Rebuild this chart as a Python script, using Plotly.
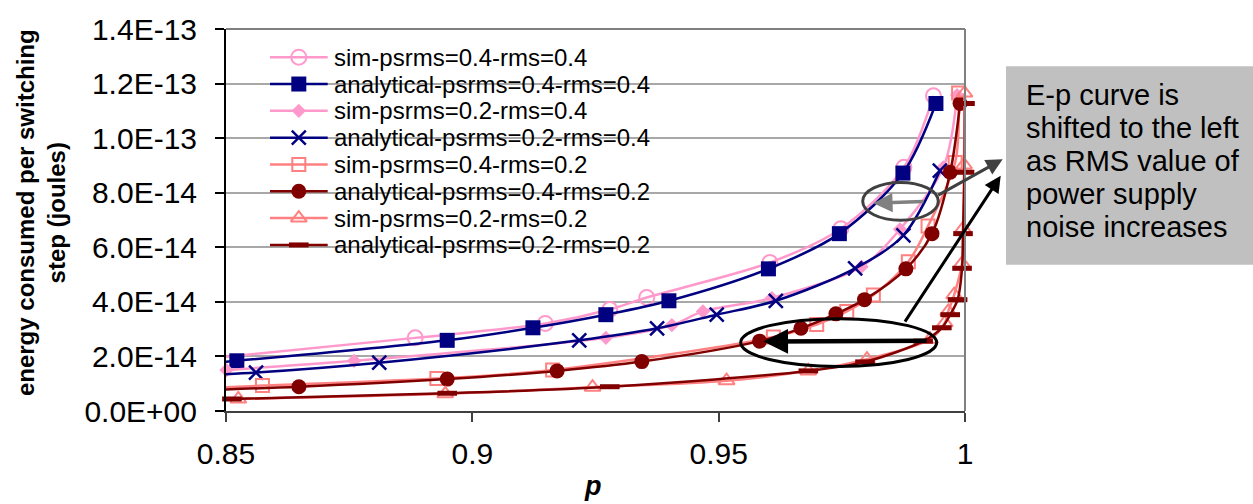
import plotly.graph_objects as go

# Energy consumed per switching step versus probability p.
# Energies are given in units of 1e-14 joules.
E_UNIT = 1e-14

sim_04_04_p = [0.845, 0.8884, 0.9148, 0.9279, 0.9354, 0.9604, 0.9748, 0.9876, 0.9936]
sim_04_04_e = [1.90, 2.68, 3.21, 3.72, 4.16, 5.44, 6.68, 8.93, 11.55]

ana_04_04_p = [0.826, 0.8522, 0.8949, 0.9123, 0.9271, 0.9399, 0.9601, 0.9745, 0.9874, 0.9941]
ana_04_04_e = [1.47, 1.84, 2.59, 3.05, 3.53, 4.04, 5.21, 6.50, 8.72, 11.27]

sim_02_04_p = [0.83, 0.8501, 0.876, 0.9271, 0.9405, 0.9468, 0.9608, 0.979, 0.9868, 0.9956, 0.9984]
sim_02_04_e = [1.20, 1.50, 1.84, 2.68, 3.15, 3.65, 4.14, 5.29, 6.66, 8.93, 11.58]

ana_02_04_p = [0.83, 0.8561, 0.8811, 0.9217, 0.9375, 0.9496, 0.9616, 0.9777, 0.9875, 0.9949]
ana_02_04_e = [1.17, 1.41, 1.77, 2.59, 3.03, 3.53, 4.04, 5.23, 6.44, 8.81]

sim_04_02_p = [0.83, 0.8574, 0.8928, 0.9163, 0.9611, 0.9699, 0.976, 0.9814, 0.9885, 0.9925, 0.998, 0.9987]
sim_04_02_e = [0.72, 0.93, 1.19, 1.50, 2.71, 3.17, 3.65, 4.25, 5.47, 6.78, 9.11, 11.65]

ana_04_02_p = [0.825, 0.8648, 0.8949, 0.9172, 0.9344, 0.9583, 0.9667, 0.9738, 0.9796, 0.988, 0.9933, 0.997, 0.999]
ana_04_02_e = [0.65, 0.89, 1.17, 1.47, 1.81, 2.56, 3.03, 3.56, 4.08, 5.21, 6.50, 8.75, 11.27]

sim_02_02_p = [0.8525, 0.8945, 0.9244, 0.9516, 0.9682, 0.9801, 0.9929, 0.9959, 0.9966, 0.9978, 0.9994, 0.9996, 0.9998, 0.9999]
sim_02_02_e = [0.44, 0.63, 0.87, 1.11, 1.47, 1.90, 2.63, 3.23, 3.65, 4.26, 5.41, 6.68, 9.02, 11.65]

ana_02_02_p = [0.8512, 0.8949, 0.9279, 0.9682, 0.9797, 0.9915, 0.9953, 0.997, 0.9985, 0.9994, 0.9996, 0.9999, 1.0]
ana_02_02_e = [0.44, 0.65, 0.89, 1.47, 1.80, 2.56, 3.05, 3.53, 4.08, 5.23, 6.50, 8.75, 11.27]

series_names = [
    "sim-psrms=0.4-rms=0.4",
    "analytical-psrms=0.4-rms=0.4",
    "sim-psrms=0.2-rms=0.4",
    "analytical-psrms=0.2-rms=0.4",
    "sim-psrms=0.4-rms=0.2",
    "analytical-psrms=0.4-rms=0.2",
    "sim-psrms=0.2-rms=0.2",
    "analytical-psrms=0.2-rms=0.2",
]

x_tick_vals = [0.85, 0.9, 0.95, 1.0]
x_tick_text = ["0.85", "0.9", "0.95", "1"]
y_tick_vals = [0, 2, 4, 6, 8, 10, 12, 14]
y_tick_text = ["0.0E+00", "2.0E-14", "4.0E-14", "6.0E-14", "8.0E-14",
               "1.0E-13", "1.2E-13", "1.4E-13"]

note_lines = ["E-p curve is", "shifted to the left", "as RMS value of",
              "power supply", "noise increases"]

FONT = "Liberation Sans, Arial, sans-serif"
PINK = "#FF99CC"
NAVY = "#000080"
SALMON = "#FF8080"
MAROON = "#800000"

# figure geometry (pixels)
W, H = 1253, 504
L, R, T, B = 226, 965, 25, 411


def px(x):
    return (x - L) / (R - L)


def py(y):
    return (B - y) / (B - T)


styles = [
    dict(color=PINK, symbol="circle-open", size=15, lw=2),
    dict(color=NAVY, symbol="square", size=15, lw=0),
    dict(color=PINK, symbol="diamond", size=11, lw=0),
    dict(color=NAVY, symbol="x-thin-open", size=14, lw=2.5),
    dict(color=SALMON, symbol="square-open", size=13, lw=2),
    dict(color=MAROON, symbol="circle", size=15, lw=0),
    dict(color=SALMON, symbol="triangle-up-open", size=14, lw=2),
    dict(color=MAROON, symbol="line-ew-open", size=14, lw=5),
]

data = [
    (sim_04_04_p, sim_04_04_e),
    (ana_04_04_p, ana_04_04_e),
    (sim_02_04_p, sim_02_04_e),
    (ana_02_04_p, ana_02_04_e),
    (sim_04_02_p, sim_04_02_e),
    (ana_04_02_p, ana_04_02_e),
    (sim_02_02_p, sim_02_02_e),
    (ana_02_02_p, ana_02_02_e),
]


def marker_of(st):
    return dict(symbol=st["symbol"], size=st["size"], color=st["color"],
                line=dict(color=st["color"], width=st["lw"]))


fig = go.Figure()

for name, (p, e), st in zip(series_names, data, styles):
    fig.add_trace(go.Scatter(
        x=p, y=[v * E_UNIT for v in e], name=name,
        mode="lines+markers",
        line=dict(color=st["color"], width=2.5, shape="spline", smoothing=0.9),
        marker=marker_of(st), cliponaxis=False, showlegend=False,
    ))

# hand-laid legend on a pixel-scaled overlay axis
annotations = []
row0, row_step = 53.5, 27.1
for i, (name, st) in enumerate(zip(series_names, styles)):
    ry = row0 + row_step * i
    fig.add_trace(go.Scatter(
        x=[270, 327.7], y=[ry, ry], mode="lines", xaxis="x2", yaxis="y2",
        line=dict(color=st["color"], width=2.5), showlegend=False, hoverinfo="skip",
    ))
    fig.add_trace(go.Scatter(
        x=[298.8], y=[ry], mode="markers", xaxis="x2", yaxis="y2",
        marker=marker_of(st), showlegend=False, hoverinfo="skip",
    ))
    annotations.append(dict(
        text=name, x=px(332), y=py(ry), xref="paper", yref="paper",
        xanchor="left", yanchor="middle", showarrow=False,
        font=dict(family=FONT, size=24, color="black"),
    ))

# annotation text box
for j, line in enumerate(note_lines):
    annotations.append(dict(
        text=line, x=px(1024), y=py(91.5 + 33.3 * j), xref="paper", yref="paper",
        xanchor="left", yanchor="middle", showarrow=False,
        font=dict(family=FONT, size=29, color="black"),
    ))

# axis titles
annotations.append(dict(
    text="energy consumed per switching<br>step (joules)",
    x=px(41), y=py(210), xref="paper", yref="paper", textangle=-90,
    xanchor="center", yanchor="middle", showarrow=False,
    font=dict(family=FONT, size=24, color="black", weight="bold"),
))
annotations.append(dict(
    text="p", x=px(593), y=py(487), xref="paper", yref="paper",
    xanchor="center", yanchor="middle", showarrow=False,
    font=dict(family=FONT, size=27, color="black", weight="bold", style="italic"),
))


def arrow(head, tail, color, width):
    return dict(
        text="", x=px(head[0]), y=py(head[1]), xref="paper", yref="paper",
        ax=tail[0] - head[0], ay=tail[1] - head[1], axref="pixel", ayref="pixel",
        showarrow=True, arrowhead=2, arrowsize=1.1, arrowwidth=width,
        arrowcolor=color, standoff=0, startstandoff=0,
    )


annotations += [
    arrow((873.3, 201), (925, 199.3), "#808080", 3.5),
    arrow((1002.7, 156.7), (936.7, 193.3), "#404040", 3),
    arrow((1000.7, 173.3), (904, 320.7), "black", 3),
    arrow((763.3, 340.7), (928.3, 340), "black", 4.5),
]

shapes = [
    # legend backdrop
    dict(type="rect", xref="paper", yref="paper", layer="between",
         x0=px(245), x1=px(705), y0=py(258), y1=py(27),
         fillcolor="white", line=dict(width=0)),
    # top and right frame
    dict(type="line", xref="paper", yref="paper", x0=0, x1=1, y0=1, y1=1,
         line=dict(color="#808080", width=2)),
    dict(type="line", xref="paper", yref="paper", x0=1, x1=1, y0=0, y1=1,
         line=dict(color="#808080", width=2)),
    # callout ellipses
    dict(type="circle", xref="paper", yref="paper",
         x0=px(862.7), x1=px(938.3), y0=py(218.3), y1=py(180),
         line=dict(color="#404040", width=3)),
    dict(type="circle", xref="paper", yref="paper",
         x0=px(740.7), x1=px(936.7), y0=py(366), y1=py(317.7),
         line=dict(color="black", width=3)),
    # note box
    dict(type="rect", xref="paper", yref="paper", layer="below",
         x0=px(1006), x1=px(1253), y0=py(263.3), y1=py(62.7),
         fillcolor="#C0C0C0", line=dict(width=0)),
]

fig.update_layout(
    width=W, height=H,
    margin=dict(l=L, r=W - R, t=T, b=H - B),
    paper_bgcolor="white", plot_bgcolor="white",
    font=dict(family=FONT, color="black"),
    xaxis=dict(
        range=[0.85, 1.0], tickvals=x_tick_vals, ticktext=x_tick_text,
        ticks="outside", ticklen=9, tickwidth=1.5, tickcolor="#404040",
        showline=True, linecolor="#404040", linewidth=2,
        showgrid=False, zeroline=False, ticklabelstandoff=6,
        tickfont=dict(family=FONT, size=30, color="black"),
    ),
    yaxis=dict(
        range=[0, 14 * E_UNIT], tickvals=[v * E_UNIT for v in y_tick_vals],
        ticktext=y_tick_text, ticks="outside", ticklen=9, tickwidth=1.5,
        tickcolor="black", showline=True, linecolor="black", linewidth=2,
        showgrid=True, gridcolor="#A8A8A8", gridwidth=1.5, zeroline=False,
        ticklabelstandoff=12,
        tickfont=dict(family=FONT, size=30, color="black"),
    ),
    xaxis2=dict(overlaying="x", anchor="y2", range=[L, R], visible=False),
    yaxis2=dict(overlaying="y", anchor="x2", range=[B, T], visible=False),
    annotations=annotations,
    shapes=shapes,
)

fig.write_html("out.html")
